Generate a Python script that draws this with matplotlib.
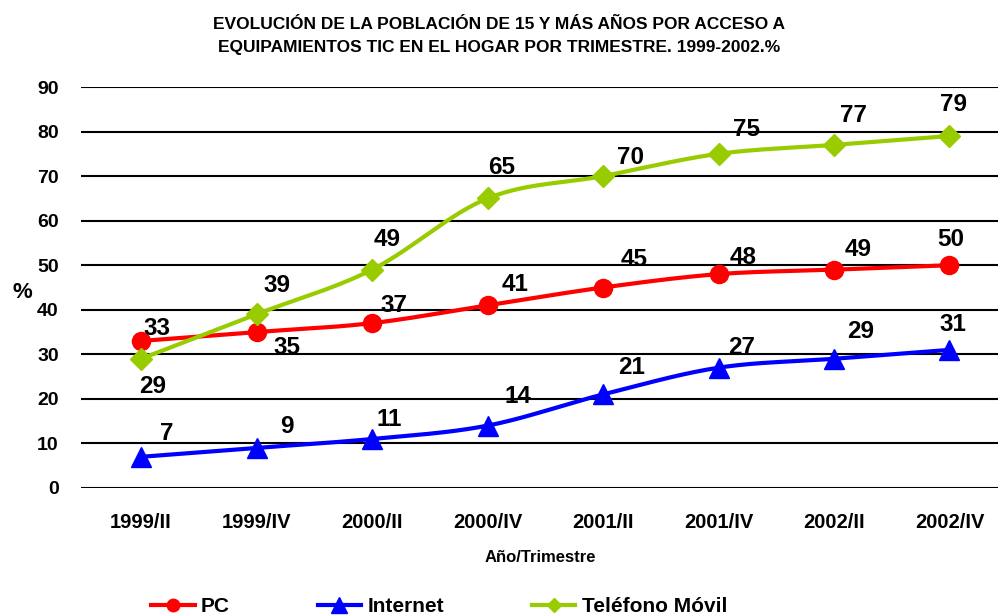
import numpy as np
import matplotlib.pyplot as plt

plt.rcParams['font.family'] = ['Liberation Sans', 'DejaVu Sans']
plt.rcParams['font.weight'] = 'bold'

trimestres = ['1999/II', '1999/IV', '2000/II', '2000/IV', '2001/II', '2001/IV', '2002/II', '2002/IV']
pc = [33, 35, 37, 41, 45, 48, 49, 50]
internet = [7, 9, 11, 14, 21, 27, 29, 31]
movil = [29, 39, 49, 65, 70, 75, 77, 79]

# desplazamiento de las etiquetas (px, y hacia abajo)
off_pc = [(16, -14), (30, 13), (22, -20), (28, -23), (31, -30), (25, -19), (24, -22), (1, -28)]
off_internet = [(26, -25), (30, -23), (17, -21), (30, -31), (29, -29), (23, -22), (27, -29), (3, -27)]
off_movil = [(12, 26), (20, -31), (15, -32), (14, -33), (27, -21), (28, -26), (19, -31), (4, -34)]


def suave(x, y, n=30):
    # curva suavizada tipo Excel
    x = np.asarray(x, float)
    y = np.asarray(y, float)
    px = np.concatenate([[2 * x[0] - x[1]], x, [2 * x[-1] - x[-2]]])
    py = np.concatenate([[2 * y[0] - y[1]], y, [2 * y[-1] - y[-2]]])
    xs, ys = [], []
    t = np.linspace(0, 1, n)[:, None]
    for i in range(1, len(px) - 2):
        p0, p1, p2, p3 = [np.array([px[j], py[j]]) for j in range(i - 1, i + 3)]
        c1 = p1 + (p2 - p0) / 6
        c2 = p2 - (p3 - p1) / 6
        b = (1 - t) ** 3 * p1 + 3 * (1 - t) ** 2 * t * c1 + 3 * (1 - t) * t ** 2 * c2 + t ** 3 * p2
        xs.extend(b[:, 0])
        ys.extend(b[:, 1])
    return xs, ys


fig = plt.figure(figsize=(9.98, 6.16), dpi=100)
ax = fig.add_axes([81 / 998, 1 - 488 / 616, 1 - 81 / 998, (488 - 87) / 616])

x = np.arange(len(trimestres))
series = [
    (pc, off_pc, '#FF0000', 'o', 13, 'PC'),
    (internet, off_internet, '#0000FF', '^', 15, 'Internet'),
    (movil, off_movil, '#99CC00', 'D', 11, 'Teléfono Móvil'),
]
handles = []
for vals, offs, col, mk, ms, lab in series:
    sx, sy = suave(x, vals)
    ax.plot(sx, sy, color=col, lw=3, zorder=3)
    ax.plot(x, vals, ls='none', marker=mk, ms=ms, color=col, zorder=4)
    h, = ax.plot([], [], color=col, lw=3, marker=mk, ms=ms - 4, label=lab)
    handles.append(h)
    for i, v in enumerate(vals):
        dx, dy = offs[i]
        ax.annotate(str(v), (x[i], v), xytext=(dx, -(dy + 8.5)), textcoords='offset pixels',
                    ha='center', va='baseline', fontsize=17.5, fontweight='bold', zorder=5)

ax.set_xlim(-0.52, 7.42)
ax.set_ylim(0, 90)
ax.set_yticks(range(0, 91, 10))
ax.set_xticks(x)
ax.set_xticklabels(trimestres, fontsize=14.5, fontweight='bold')
ax.tick_params(axis='y', labelsize=14, length=0, pad=16)
ax.tick_params(axis='x', length=0, pad=18)
ax.grid(axis='y', color='black', lw=1.5)
ax.set_axisbelow(True)
for s in ax.spines.values():
    s.set_visible(False)

fig.text(22 / 998, 1 - 292 / 616, '%', fontsize=16, fontweight='bold', ha='center', va='center')
fig.text(540 / 998, 1 - 558 / 616, 'Año/Trimestre', fontsize=12, fontweight='bold', ha='center', va='center')
fig.text(499 / 998, 1 - 36 / 616,
         'EVOLUCIÓN DE LA POBLACIÓN DE 15 Y MÁS AÑOS POR ACCESO A\nEQUIPAMIENTOS TIC EN EL HOGAR POR TRIMESTRE. 1999-2002.%',
         fontsize=12.5, fontweight='bold', ha='center', va='center', linespacing=1.65)

fig.legend(handles=handles, loc='center', bbox_to_anchor=(439 / 998, 1 - 607 / 616), ncol=3,
           frameon=False, handlelength=2.1, handletextpad=0.3, columnspacing=4.2,
           prop={'size': 15, 'weight': 'bold'})

fig.savefig('out.png', dpi=100)
